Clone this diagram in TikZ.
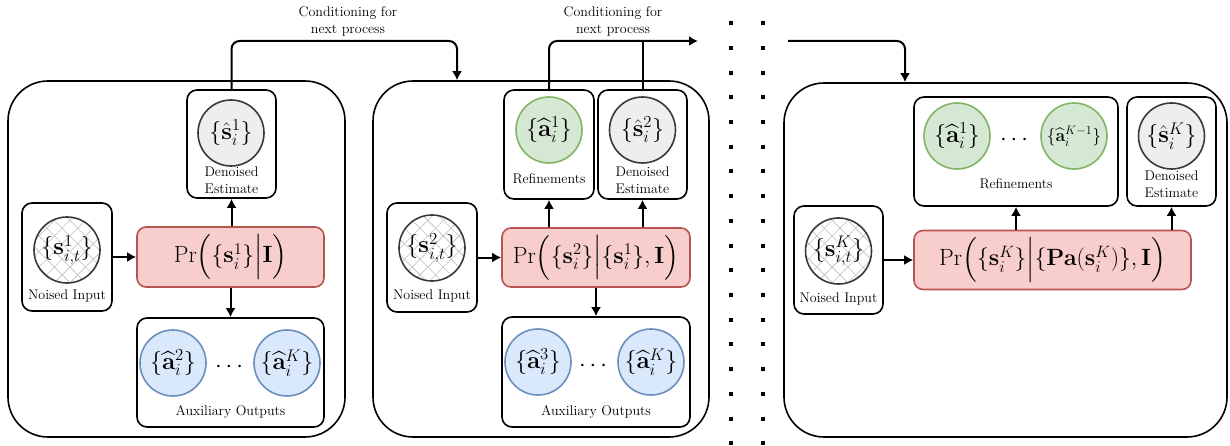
\RequirePackage{fix-cm}
\documentclass[tikz,border=0pt]{standalone}
\usepackage{amsmath}
\usetikzlibrary{patterns.meta,arrows.meta}
\definecolor{estfill}{HTML}{EEEEEE}
\definecolor{estline}{HTML}{36393D}
\definecolor{reffill}{HTML}{D5E8D4}
\definecolor{refline}{HTML}{82B366}
\definecolor{auxfill}{HTML}{DAE8FC}
\definecolor{auxline}{HTML}{6C8EBF}
\definecolor{prfill}{HTML}{F8CECC}
\definecolor{prline}{HTML}{B85450}

\begin{document}
\begin{tikzpicture}[x=1pt, y=-1pt, >={Latex[length=9pt,width=10pt]},
  panel/.style={draw, line width=1.6pt, rounded corners=40pt},
  holder/.style={draw, line width=1.6pt, rounded corners=10pt},
  prbox/.style={draw=prline, fill=prfill, line width=1.6pt, rounded corners=9pt,
    font=\fontsize{23.5}{28}\selectfont},
  bubble/.style={circle, line width=1.6pt, minimum size=66pt, inner sep=0pt,
    font=\fontsize{24}{28}\selectfont},
  estcirc/.style={bubble, draw=estline, fill=estfill},
  refcirc/.style={bubble, draw=refline, fill=reffill},
  auxcirc/.style={bubble, draw=auxline, fill=auxfill},
  noisy/.style={bubble, draw=estline, preaction={fill=white},
    preaction={pattern={Lines[angle=45, distance=11pt, line width=0.6pt]}, pattern color=black!25},
    pattern={Lines[angle=-45, distance=11pt, line width=0.6pt]}, pattern color=black!25},
  lbl/.style={font=\fontsize{14}{17}\selectfont, align=center, inner sep=0pt},
  mathtxt/.style={font=\fontsize{24}{28}\selectfont, inner sep=0pt},
  flow/.style={->, line width=2pt}]
\useasboundingbox (0,0) rectangle (1230,446);

% first process
\node[panel, minimum width=337pt, minimum height=356pt] (p1) at (176.5,259) {};
\node[holder, minimum width=89pt, minimum height=108pt] (den1) at (231.5,144) {};
\node[estcirc] (s1) at (231,133) {$\{\hat{\mathbf{s}}_i^1\}$};
\node[lbl] (den1txt) at (231.5,180) {Denoised\\Estimate};
\node[holder, minimum width=90pt, minimum height=108pt] (noi1) at (67,257) {};
\node[noisy] (x1) at (67,250) {$\{\mathbf{s}_{i,t}^1\}$};
\node[lbl] (noi1txt) at (67,296) {Noised Input};
\node[prbox, minimum width=187pt, minimum height=60pt] (pr1) at (230.5,257)
  {$\mathrm{Pr}\Big(\{\mathbf{s}_i^1\}\Big|\mathbf{I}\Big)$};
\node[holder, minimum width=187pt, minimum height=109pt] (aux1) at (230.5,372.5) {};
\node[auxcirc] (a12) at (173,363) {$\{\widehat{\mathbf{a}}_i^2\}$};
\node[mathtxt] (dots1) at (231,367) {$\cdots$};
\node[auxcirc] (a1K) at (287,363) {$\{\widehat{\mathbf{a}}_i^K\}$};
\node[lbl] (aux1txt) at (230.5,412) {Auxiliary Outputs};
\draw[flow] (noi1) -- (pr1);
\draw[flow] (pr1.north -| den1.south) -- (den1.south);
\draw[flow] (pr1) -- (aux1);

% second process
\node[panel, minimum width=336pt, minimum height=356pt] (p2) at (541,259) {};
\node[holder, minimum width=90pt, minimum height=109pt] (ref2) at (549,144.5) {};
\node[refcirc] (r21) at (549,130) {$\{\widehat{\mathbf{a}}_i^1\}$};
\node[lbl] (ref2txt) at (549,179) {Refinements};
\node[holder, minimum width=89pt, minimum height=109pt] (den2) at (642.5,144.5) {};
\node[estcirc] (s2) at (642.5,130) {$\{\hat{\mathbf{s}}_i^2\}$};
\node[lbl] (den2txt) at (642.5,180) {Denoised\\Estimate};
\node[holder, minimum width=90pt, minimum height=109pt] (noi2) at (432,257.5) {};
\node[noisy] (x2) at (432,248) {$\{\mathbf{s}_{i,t}^2\}$};
\node[lbl] (noi2txt) at (432,296) {Noised Input};
\node[prbox, minimum width=188pt, minimum height=59pt] (pr2) at (596,257.5)
  {$\mathrm{Pr}\Big(\{\mathbf{s}_i^2\}\Big|\{\mathbf{s}_i^1\},\mathbf{I}\Big)$};
\node[holder, minimum width=188pt, minimum height=110pt] (aux2) at (596,372) {};
\node[auxcirc] (a23) at (538,362) {$\{\widehat{\mathbf{a}}_i^3\}$};
\node[mathtxt] (dots2) at (595,366) {$\cdots$};
\node[auxcirc] (a2K) at (651,362) {$\{\widehat{\mathbf{a}}_i^K\}$};
\node[lbl] (aux2txt) at (596,412) {Auxiliary Outputs};
\draw[flow] (noi2) -- (pr2);
\draw[flow] (pr2.north -| ref2.south) -- (ref2.south);
\draw[flow] (pr2.north -| den2.south) -- (den2.south);
\draw[flow] (pr2) -- (aux2);

% last process
\node[panel, minimum width=443pt, minimum height=354pt] (p3) at (1005.5,260) {};
\node[holder, minimum width=204pt, minimum height=109pt] (ref3) at (1016,151.5) {};
\node[refcirc] (r31) at (957,136) {$\{\widehat{\mathbf{a}}_i^1\}$};
\node[mathtxt] (dots3) at (1016,140) {$\cdots$};
\node[refcirc, font=\fontsize{17.5}{20}\selectfont] (r3K) at (1074,136) {$\{\widehat{\mathbf{a}}_i^{K-1}\}$};
\node[lbl] (ref3txt) at (1016,184) {Refinements};
\node[holder, minimum width=89pt, minimum height=109pt] (den3) at (1171.5,151.5) {};
\node[estcirc] (s3) at (1171.5,136) {$\{\hat{\mathbf{s}}_i^K\}$};
\node[lbl] (den3txt) at (1171.5,184.5) {Denoised\\Estimate};
\node[holder, minimum width=89pt, minimum height=108pt] (noi3) at (838.5,260) {};
\node[noisy] (x3) at (838.5,251) {$\{\mathbf{s}_{i,t}^K\}$};
\node[lbl] (noi3txt) at (838.5,299) {Noised Input};
\node[prbox, minimum width=277pt, minimum height=59pt] (pr3) at (1052.5,260)
  {$\mathrm{Pr}\Big(\{\mathbf{s}_i^K\}\Big|\{\mathbf{Pa}(\mathbf{s}_i^K)\},\mathbf{I}\Big)$};
\draw[flow] (noi3) -- (pr3);
\draw[flow] (pr3.north -| ref3.south) -- (ref3.south);
\draw[flow] (pr3.north -| den3.south) -- (den3.south);

% conditioning links
\coordinate (hop1) at (457,41);
\coordinate (out2) at (698,41);
\coordinate (in3) at (788,41);
\coordinate (hop3) at (905,41);
\draw[flow, rounded corners=8pt] (den1.north) |- (hop1) -- (hop1 |- p2.north);
\draw[flow, rounded corners=8pt] (ref2.north) |- (out2);
\draw[line width=2pt] (den2.north) -- (den2.north |- out2);
\draw[flow, rounded corners=8pt] (in3) -- (hop3) -- (hop3 |- p3.north);
\node[lbl] (cond1) at (348,21) {Conditioning for\\next process};
\node[lbl] (cond2) at (613,21) {Conditioning for\\next process};

% ellipsis columns
\draw[line width=4pt, dash pattern=on 4pt off 20.7pt] (731,21.3) -- (731,446);
\draw[line width=4pt, dash pattern=on 4pt off 20.7pt] (763,21.3) -- (763,446);
\end{tikzpicture}
\end{document}
